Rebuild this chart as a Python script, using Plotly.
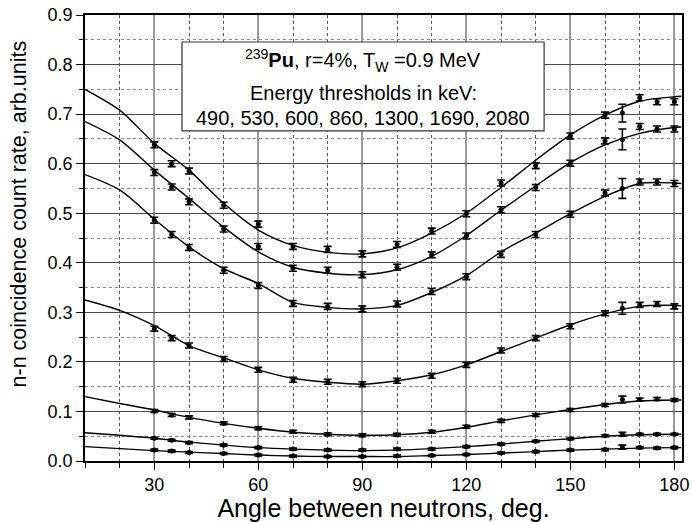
import plotly.graph_objects as go

# Measured angles between the two neutrons (deg.)
angles = [30, 35, 40, 50, 60, 70, 80, 90, 100, 110, 120, 130, 140, 150, 160, 165, 170, 175, 180]

# Coincidence count rates for each energy threshold (keV)
thresholds = [490, 530, 600, 860, 1300, 1690, 2080]
rate_490 = [0.638, 0.600, 0.585, 0.516, 0.478, 0.433, 0.427, 0.418, 0.437, 0.464, 0.499,
            0.561, 0.596, 0.656, 0.698, 0.702, 0.733, 0.725, 0.725]
rate_530 = [0.582, 0.553, 0.523, 0.468, 0.433, 0.389, 0.385, 0.376, 0.391, 0.416, 0.454,
            0.507, 0.552, 0.601, 0.646, 0.649, 0.675, 0.670, 0.670]
rate_600 = [0.486, 0.457, 0.431, 0.385, 0.354, 0.318, 0.312, 0.307, 0.317, 0.342, 0.372,
            0.417, 0.457, 0.498, 0.541, 0.550, 0.563, 0.563, 0.560]
rate_860 = [0.267, 0.248, 0.233, 0.206, 0.184, 0.164, 0.160, 0.155, 0.162, 0.172, 0.194,
            0.223, 0.248, 0.272, 0.298, 0.308, 0.315, 0.317, 0.312]
rate_1300 = [0.101, 0.093, 0.088, 0.076, 0.066, 0.059, 0.054, 0.052, 0.053, 0.059, 0.069,
             0.081, 0.093, 0.103, 0.113, 0.124, 0.124, 0.125, 0.123]
rate_1690 = [0.046, 0.042, 0.037, 0.032, 0.027, 0.024, 0.022, 0.022, 0.024, 0.024, 0.029,
             0.034, 0.040, 0.045, 0.051, 0.054, 0.054, 0.054, 0.054]
rate_2080 = [0.022, 0.020, 0.017, 0.015, 0.012, 0.010, 0.009, 0.009, 0.010, 0.011, 0.013,
             0.016, 0.019, 0.022, 0.023, 0.028, 0.027, 0.026, 0.027]

# Statistical uncertainties
err_490 = [0.006] * 15 + [0.018] + [0.006] * 3
err_530 = [0.006] * 15 + [0.021] + [0.006] * 3
err_600 = [0.006] * 15 + [0.020] + [0.006] * 3
err_860 = [0.005] * 15 + [0.012] + [0.005] * 3
err_1300 = [0.003] * 15 + [0.007] + [0.003] * 3
err_1690 = [0.002] * 15 + [0.004] + [0.002] * 3
err_2080 = [0.002] * 15 + [0.004] + [0.002] * 3

# Calculated (fitted) curves
fit_angles = [10, 20, 30, 40, 50, 60, 70, 80, 90, 100, 110, 120, 130, 140, 150, 160, 170, 180, 182]
fit_490 = [0.750, 0.708, 0.641, 0.587, 0.520, 0.466, 0.435, 0.421, 0.418, 0.430, 0.460, 0.500,
           0.552, 0.607, 0.658, 0.698, 0.726, 0.735, 0.736]
fit_530 = [0.685, 0.648, 0.587, 0.530, 0.472, 0.422, 0.391, 0.379, 0.376, 0.386, 0.413, 0.455,
           0.506, 0.555, 0.602, 0.638, 0.661, 0.673, 0.674]
fit_600 = [0.578, 0.547, 0.488, 0.432, 0.388, 0.358, 0.320, 0.310, 0.307, 0.314, 0.340, 0.374,
           0.422, 0.460, 0.499, 0.534, 0.560, 0.561, 0.560]
fit_860 = [0.325, 0.304, 0.273, 0.233, 0.208, 0.184, 0.167, 0.159, 0.155, 0.162, 0.174, 0.194,
           0.221, 0.248, 0.275, 0.297, 0.312, 0.314, 0.313]
fit_1300 = [0.130, 0.116, 0.103, 0.088, 0.076, 0.066, 0.058, 0.054, 0.052, 0.053, 0.058, 0.068,
            0.081, 0.093, 0.104, 0.114, 0.121, 0.123, 0.123]
fit_1690 = [0.057, 0.052, 0.046, 0.038, 0.032, 0.027, 0.024, 0.022, 0.021, 0.022, 0.025, 0.029,
            0.034, 0.040, 0.045, 0.050, 0.053, 0.054, 0.054]
fit_2080 = [0.029, 0.025, 0.021, 0.018, 0.015, 0.012, 0.010, 0.009, 0.009, 0.009, 0.011, 0.013,
            0.016, 0.019, 0.022, 0.024, 0.026, 0.027, 0.027]

measured = [rate_490, rate_530, rate_600, rate_860, rate_1300, rate_1690, rate_2080]
errors = [err_490, err_530, err_600, err_860, err_1300, err_1690, err_2080]
fits = [fit_490, fit_530, fit_600, fit_860, fit_1300, fit_1690, fit_2080]

FONT = "Arial, Liberation Sans, sans-serif"
Y_RANGE = [0, 0.9]

fig = go.Figure()

for thr, fit in zip(thresholds, fits):
    fig.add_trace(go.Scatter(
        x=fit_angles, y=fit, mode="lines", name=f"fit {thr} keV",
        line=dict(color="black", width=1.4, shape="spline", smoothing=0.8),
        showlegend=False, hoverinfo="skip",
    ))

for thr, rate, err in zip(thresholds, measured, errors):
    fig.add_trace(go.Scatter(
        x=angles, y=rate, mode="markers", name=f"{thr} keV",
        marker=dict(color="black", size=5, symbol="circle"),
        error_y=dict(type="data", array=err, visible=True, color="black",
                     thickness=1.6, width=4),
        showlegend=False,
    ))

# Caption box
fig.add_shape(type="rect", xref="paper", yref="paper",
              x0=0.1625, x1=0.769, y0=0.740, y1=0.9395,
              line=dict(color="#333333", width=1.2), fillcolor="white", layer="above")
caption = [
    ("<sup>239</sup><b>Pu</b>, r=4%, T<sub>W</sub> =0.9 MeV", 0.899),
    ("Energy thresholds in keV:", 0.825),
    (", ".join(str(t) for t in thresholds), 0.769),
]
for text, yp in caption:
    fig.add_annotation(text=text, xref="paper", yref="paper", x=0.4657, y=yp,
                       xanchor="center", yanchor="middle", showarrow=False,
                       font=dict(family=FONT, size=20, color="black"))

# Y-axis title
fig.add_annotation(text="n-n coincidence count rate, arb.units", textangle=-90,
                   xref="paper", yref="paper", x=-0.1106, y=0.555,
                   xanchor="center", yanchor="middle", showarrow=False,
                   font=dict(family=FONT, size=21.5, color="black"))

fig.update_layout(
    width=692, height=522,
    margin=dict(l=85, r=10, t=15, b=61),
    paper_bgcolor="white", plot_bgcolor="white",
    font=dict(family=FONT, color="black"),
    xaxis=dict(
        range=[10, 182.2], tickvals=[30, 60, 90, 120, 150, 180],
        showgrid=True, gridcolor="#9a9a9a", gridwidth=1.5,
        ticks="outside", ticklen=7, tickwidth=1.2, tickcolor="black",
        minor=dict(dtick=10, tick0=0, showgrid=True, gridcolor="#555555",
                   griddash="dot", gridwidth=1, ticks="outside", ticklen=5, tickcolor="black"),
        showline=True, linecolor="black", linewidth=1.5, mirror=True,
        zeroline=False, automargin=False,
        tickfont=dict(size=18),
        title=dict(text="Angle between neutrons, deg.", font=dict(size=25), standoff=2),
    ),
    yaxis=dict(
        range=Y_RANGE, dtick=0.1, tickformat=".1f",
        showgrid=True, gridcolor="#4a4a4a", gridwidth=1,
        ticks="outside", ticklen=7, tickwidth=1.2, tickcolor="black",
        minor=dict(dtick=0.05, showgrid=True, gridcolor="#8a8a8a",
                   griddash="dot", gridwidth=1, ticks="outside", ticklen=4, tickcolor="black"),
        showline=True, linecolor="black", linewidth=1.5, mirror=True,
        zeroline=False, automargin=False,
        tickfont=dict(size=18),
    ),
    # right-hand axis carrying inward ticks only
    yaxis2=dict(
        range=Y_RANGE, dtick=0.1, overlaying="y", side="right",
        showticklabels=False, showgrid=False, zeroline=False, showline=False,
        ticks="inside", ticklen=8, tickwidth=1.2, tickcolor="black",
        minor=dict(dtick=0.05, ticks="inside", ticklen=5, tickcolor="black", showgrid=False),
        automargin=False,
    ),
)

fig.write_html("out.html")
